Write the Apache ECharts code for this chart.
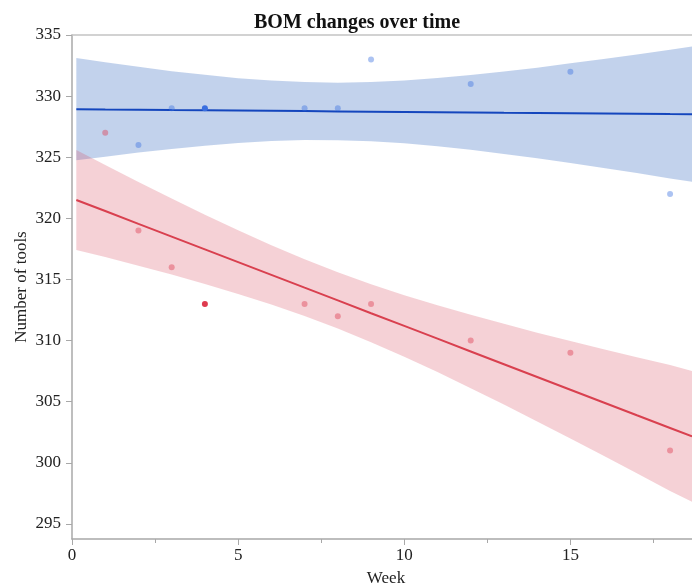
<!DOCTYPE html>
<html>
<head>
<meta charset="utf-8">
<script src="https://cdn.jsdelivr.net/npm/echarts@6/dist/echarts.min.js"></script>
<style>
  html, body { margin: 0; padding: 0; background: #fff; }
  #chart { width: 692px; height: 585px; }
</style>
</head>
<body>
<div id="chart"></div>
<script>
// observed points
var blueWeeks = [2, 3, 4, 7, 8, 9, 12, 15, 18]
var blueTools = [326, 329, 329, 329, 329, 333, 331, 332, 322]
var redWeeks = [1, 2, 3, 4, 7, 8, 9, 12, 15, 18]
var redTools = [327, 319, 316, 313, 313, 312, 313, 310, 309, 301]
var selectedWeek = 4

// fit lines and confidence bands
var fitX = [0.13, 1, 2, 3, 4, 5, 6, 7, 8, 9, 10, 11, 12, 13, 14, 15, 16, 17, 18, 18.66]
var blueFit = [328.93, 328.91, 328.89, 328.86, 328.84, 328.82, 328.80, 328.78, 328.75, 328.73,
	328.71, 328.69, 328.67, 328.64, 328.62, 328.60, 328.58, 328.56, 328.53, 328.52]
var blueUpper = [333.11, 332.77, 332.40, 332.04, 331.74, 331.47, 331.27, 331.15, 331.10, 331.15,
	331.28, 331.48, 331.73, 332.01, 332.33, 332.68, 333.04, 333.41, 333.79, 334.05]
var blueLower = [324.75, 325.05, 325.38, 325.68, 325.94, 326.17, 326.33, 326.41, 326.40, 326.31,
	326.14, 325.90, 325.61, 325.27, 324.91, 324.52, 324.12, 323.71, 323.27, 322.99]
var redFit = [321.50, 320.60, 319.55, 318.51, 317.46, 316.42, 315.38, 314.33, 313.29, 312.24,
	311.20, 310.16, 309.11, 308.07, 307.02, 305.98, 304.94, 303.89, 302.85, 302.16]
var redUpper = [325.59, 324.37, 322.98, 321.62, 320.29, 319.02, 317.80, 316.65, 315.59, 314.61,
	313.72, 312.89, 312.11, 311.37, 310.65, 309.97, 309.30, 308.64, 308.00, 307.51]
var redLower = [317.41, 316.83, 316.12, 315.40, 314.63, 313.82, 312.96, 312.01, 310.99, 309.87,
	308.68, 307.43, 306.11, 304.77, 303.39, 301.99, 300.58, 299.14, 297.70, 296.81]

var xTicks = [0, 5, 10, 15]
var xMinorTicks = [2.5, 7.5, 12.5, 17.5]
var yTicks = [295, 300, 305, 310, 315, 320, 325, 330, 335]

var FONT = '"Liberation Serif", "DejaVu Serif", serif'

function pairs (xs, ys) {
	let out = []
	for (var i = 0; i < xs.length; i++) out.push([xs[i], ys[i]])
	return out
}

function points (xs, ys, color) {
	let out = []
	for (var i = 0; i < xs.length; i++) {
		out.push({
			value: [xs[i], ys[i]],
			itemStyle: { color: color, opacity: xs[i] === selectedWeek ? 1 : 0.42 }
		})
	}
	return out
}

// band drawn as one polygon: upper edge left to right, lower edge back
function bandSeries (lower, upper, fill) {
	let rows = []
	for (var i = 0; i < fitX.length; i++) rows.push([fitX[i], lower[i], upper[i]])
	return {
		type: 'custom', data: rows, silent: true, z: 1,
		encode: { x: 0, y: [1, 2] },
		renderItem: function (params, api) {
			if (params.dataIndex !== 0) return
			let pts = []
			for (var i = 0; i < rows.length; i++) pts.push(api.coord([rows[i][0], rows[i][2]]))
			for (var j = rows.length - 1; j >= 0; j--) pts.push(api.coord([rows[j][0], rows[j][1]]))
			return { type: 'polygon', shape: { points: pts }, style: { fill: fill } }
		}
	}
}

let myChart = echarts.init(document.getElementById('chart'))

let series = [
	bandSeries(blueLower, blueUpper, 'rgba(64,114,196,0.32)'),
	bandSeries(redLower, redUpper, 'rgba(216,72,92,0.25)'),
	{
		type: 'line', data: pairs(fitX, blueFit), symbol: 'none',
		lineStyle: { color: '#1446bd', width: 2 }, z: 3
	}, {
		type: 'line', data: pairs(fitX, redFit), symbol: 'none',
		lineStyle: { color: '#d9404f', width: 2 }, z: 3
	}, {
		type: 'scatter', data: points(blueWeeks, blueTools, '#3a6fe0'),
		symbolSize: 6, z: 4
	}, {
		type: 'scatter', data: points(redWeeks, redTools, '#de3a4e'),
		symbolSize: 6, z: 4
	}
]

myChart.setOption({
	animation: false,
	title: {
		text: 'BOM changes over time',
		left: 249, top: 8,
		textStyle: { fontFamily: FONT, fontSize: 20, fontWeight: 'bold', color: '#111' }
	},
	grid: { left: 72, right: 0, top: 35, bottom: 46, outerBoundsMode: 'none', containLabel: false },
	xAxis: [{
		type: 'value', min: 0, max: 18.66,
		name: 'Week', nameLocation: 'middle', nameGap: 31, nameMoveOverlap: false,
		nameTextStyle: { fontFamily: FONT, fontSize: 17, color: '#222', padding: [0, 0, 0, 8] },
		axisLine: { lineStyle: { color: '#a8a8a8', width: 1.5 } },
		axisTick: { customValues: xTicks, length: 6, lineStyle: { color: '#a8a8a8' } },
		axisLabel: { customValues: xTicks, margin: 8, fontFamily: FONT, fontSize: 17, color: '#222' },
		splitLine: { show: false }
	}, {
		// minor ticks
		type: 'value', min: 0, max: 18.66, position: 'bottom',
		axisLine: { show: false },
		axisTick: { customValues: xMinorTicks, length: 4, lineStyle: { color: '#a8a8a8' } },
		axisLabel: { show: false },
		splitLine: { show: false }
	}, {
		// frame line along the top
		type: 'value', min: 0, max: 18.66, position: 'top',
		axisLine: { lineStyle: { color: '#c4c4c4', width: 1.5 } },
		axisTick: { show: false }, axisLabel: { show: false }, splitLine: { show: false }
	}],
	yAxis: {
		type: 'value', min: 293.77, max: 335,
		name: 'Number of tools', nameLocation: 'middle', nameGap: 42, nameMoveOverlap: false,
		nameTextStyle: { fontFamily: FONT, fontSize: 17, color: '#222' },
		axisLine: { show: true, lineStyle: { color: '#a8a8a8', width: 1.5 } },
		axisTick: { show: true, customValues: yTicks, length: 6, lineStyle: { color: '#a8a8a8' } },
		axisLabel: { customValues: yTicks, margin: 11, fontFamily: FONT, fontSize: 17, color: '#222' },
		splitLine: { show: false }
	},
	series: series
})
</script>
</body>
</html>
